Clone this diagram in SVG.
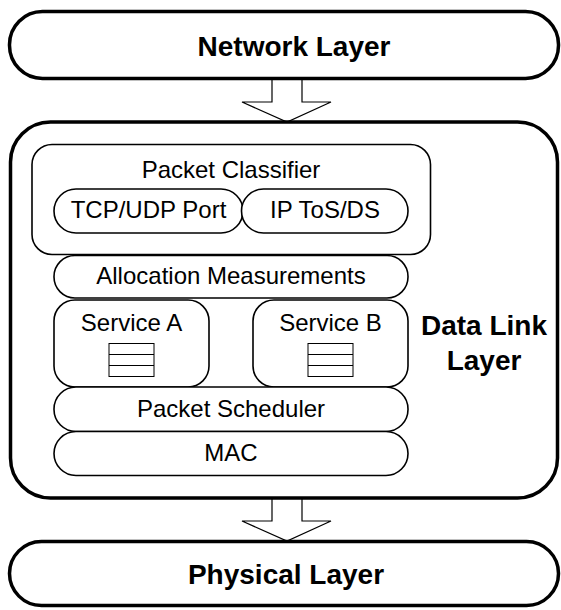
<svg xmlns="http://www.w3.org/2000/svg" width="561" height="610" viewBox="0 0 561 610">
<style>
.outer{fill:#fff;stroke:#000;stroke-width:3.5}
.inner{fill:#fff;stroke:#000;stroke-width:1.6}
.q{fill:#fff;stroke:#000;stroke-width:1}
.arrow{fill:#fff;stroke:#000;stroke-width:1.2;stroke-linejoin:miter}
.big{font-family:"Liberation Sans",Arial,sans-serif;font-weight:bold;font-size:28px;text-anchor:middle;fill:#000}
.t{font-family:"Liberation Sans",Arial,sans-serif;font-size:24px;text-anchor:middle;fill:#000}
</style>
<rect width="561" height="610" fill="#fff"/>
<g id="connectors">
<polygon class="arrow" points="272,79 302,79 302,102 331,102 287,122 242,102 272,102"/>
<polygon class="arrow" points="272,498 302,498 302,521 331,521 287,541 242,521 272,521"/>
</g>
<g id="network-layer">
<rect class="outer" x="9.5" y="11.5" width="549" height="67" rx="33" ry="33"/>
<text class="big" x="294" y="56">Network Layer</text>
</g>
<g id="data-link-layer">
<rect class="outer" x="10.5" y="122" width="547" height="376" rx="40" ry="40"/>
<text class="big" x="484" y="335">Data Link</text>
<text class="big" x="484" y="370">Layer</text>
</g>
<g id="packet-classifier">
<rect class="inner" x="32" y="144.5" width="398.5" height="110" rx="20" ry="20"/>
<text class="t" x="231" y="178">Packet Classifier</text>
</g>
<g id="tcp-udp-port">
<rect class="inner" x="54" y="189" width="189" height="44" rx="22" ry="22"/>
<text class="t" x="148.5" y="218">TCP/UDP Port</text>
</g>
<g id="ip-tos-ds">
<rect class="inner" x="241.5" y="189" width="166.5" height="44" rx="22" ry="22"/>
<text class="t" x="325" y="218">IP ToS/DS</text>
</g>
<g id="allocation-measurements">
<rect class="inner" x="54" y="255.5" width="354" height="42.5" rx="21" ry="21"/>
<text class="t" x="231" y="284">Allocation Measurements</text>
</g>
<g id="service-a">
<rect class="inner" x="54" y="300" width="155" height="87" rx="21" ry="21"/>
<text class="t" x="131.5" y="331">Service A</text>
<rect class="q" x="109" y="343.5" width="45" height="33"/>
<line class="q" x1="109" y1="354.5" x2="154" y2="354.5"/>
<line class="q" x1="109" y1="365.5" x2="154" y2="365.5"/>
</g>
<g id="service-b">
<rect class="inner" x="253" y="300" width="155" height="87" rx="21" ry="21"/>
<text class="t" x="330.5" y="331">Service B</text>
<rect class="q" x="308" y="343.5" width="45" height="33"/>
<line class="q" x1="308" y1="354.5" x2="353" y2="354.5"/>
<line class="q" x1="308" y1="365.5" x2="353" y2="365.5"/>
</g>
<g id="packet-scheduler">
<rect class="inner" x="54" y="387" width="354" height="44.5" rx="22" ry="22"/>
<text class="t" x="231" y="417">Packet Scheduler</text>
</g>
<g id="mac">
<rect class="inner" x="54" y="431.5" width="354" height="44" rx="22" ry="22"/>
<text class="t" x="231" y="461">MAC</text>
</g>
<g id="physical-layer">
<rect class="outer" x="9.5" y="541.5" width="549" height="64" rx="32" ry="32"/>
<text class="big" x="286" y="583.5">Physical Layer</text>
</g>
</svg>
